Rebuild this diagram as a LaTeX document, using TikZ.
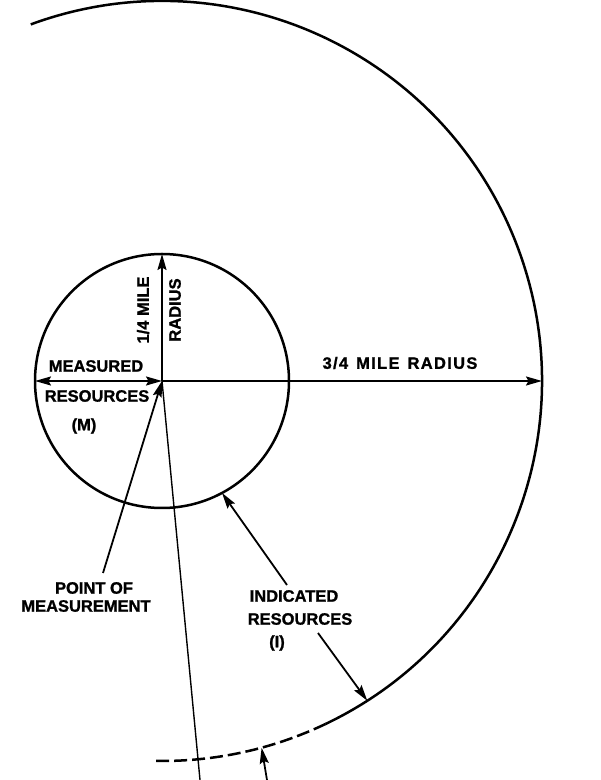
\documentclass[tikz,border=0pt]{standalone}
\usepackage{fontspec}
\setmainfont{Liberation Sans}
\newfontfamily\lblfont{Liberation Sans}[UprightFont={* Bold},FakeBold=1.2]
\usetikzlibrary{arrows.meta,calc}
\begin{document}
\begin{tikzpicture}[x=1pt,y=1pt,
 lbl/.style={font=\lblfont\fontsize{16.5}{17}\selectfont, inner sep=0pt, align=center},
 ring/.style={line width=2.5pt},
 lead/.style={line width=1.8pt},
 thin lead/.style={line width=1.4pt},
 tip/.style={-{Stealth[length=16pt,width=9pt,inset=2.5pt]}},
 twotip/.style={{Stealth[length=16pt,width=9pt,inset=2.5pt]}-{Stealth[length=16pt,width=9pt,inset=2.5pt]}}]
\useasboundingbox (0,0) rectangle (601,780);
\coordinate (C) at (162,399);
% circles
\draw[ring] (C) circle[radius=127];
\draw[ring] ($(C)+(110.2:380)$) arc[start angle=110.2,end angle=-64.5,radius=380];
\draw[ring, dash pattern=on 13pt off 5pt] ($(C)+(-64.5:380)$) arc[start angle=-64.5,end angle=-91,radius=380];
% labels
\node[lbl, rotate=90] (q) at (143,470) {1/4 MILE};
\node[lbl, rotate=90] (rad) at (175,470) {RADIUS};
\node[lbl] (meas) at (96,414) {MEASURED};
\node[lbl] (res) at (97,384) {RESOURCES};
\node[lbl] (m) at (84,354) {(M)};
\node[lbl] (big) at (400,417) {\addfontfeature{LetterSpace=8}3/4\hspace{8pt}MILE\hspace{8pt}RADIUS};
\node[lbl] (pom1) at (94,192) {POINT OF};
\node[lbl] (pom2) at (86,174) {MEASUREMENT};
\node[lbl] (ind1) at (294,184) {INDICATED};
\node[lbl] (ind2) at (300,161) {RESOURCES};
\node[lbl] (ind3) at (277,137) {(I)};
% connector end points
\coordinate (stop) at ($(C)+(90:127)$);
\coordinate (sleft) at ($(C)+(180:127)$);
\coordinate (bright) at ($(C)+(0:380)$);
\coordinate (pomtop) at (103,207);
\coordinate (lowend) at (200,0);
\coordinate (iup) at (287,195);
\coordinate (ilow) at (318,147);
\coordinate (sarc) at ($(C)+(-61.8:127)$);
\coordinate (barc) at ($(C)+(-57.3:380)$);
\coordinate (botend) at (267,0);
\coordinate (botarc) at ($(C)+(-74.8:380)$);
% connectors
\draw[lead, tip] (C) -- (stop);
\draw[lead, twotip] (sleft) -- (C);
\draw[lead, tip] (C) -- (bright);
\draw[lead, tip] (pomtop) -- (C);
\draw[thin lead] (C) -- (lowend);
\draw[lead, tip] (iup) -- (sarc);
\draw[lead, tip] (ilow) -- (barc);
\draw[lead, tip] (botend) -- (botarc);
\end{tikzpicture}
\end{document}
